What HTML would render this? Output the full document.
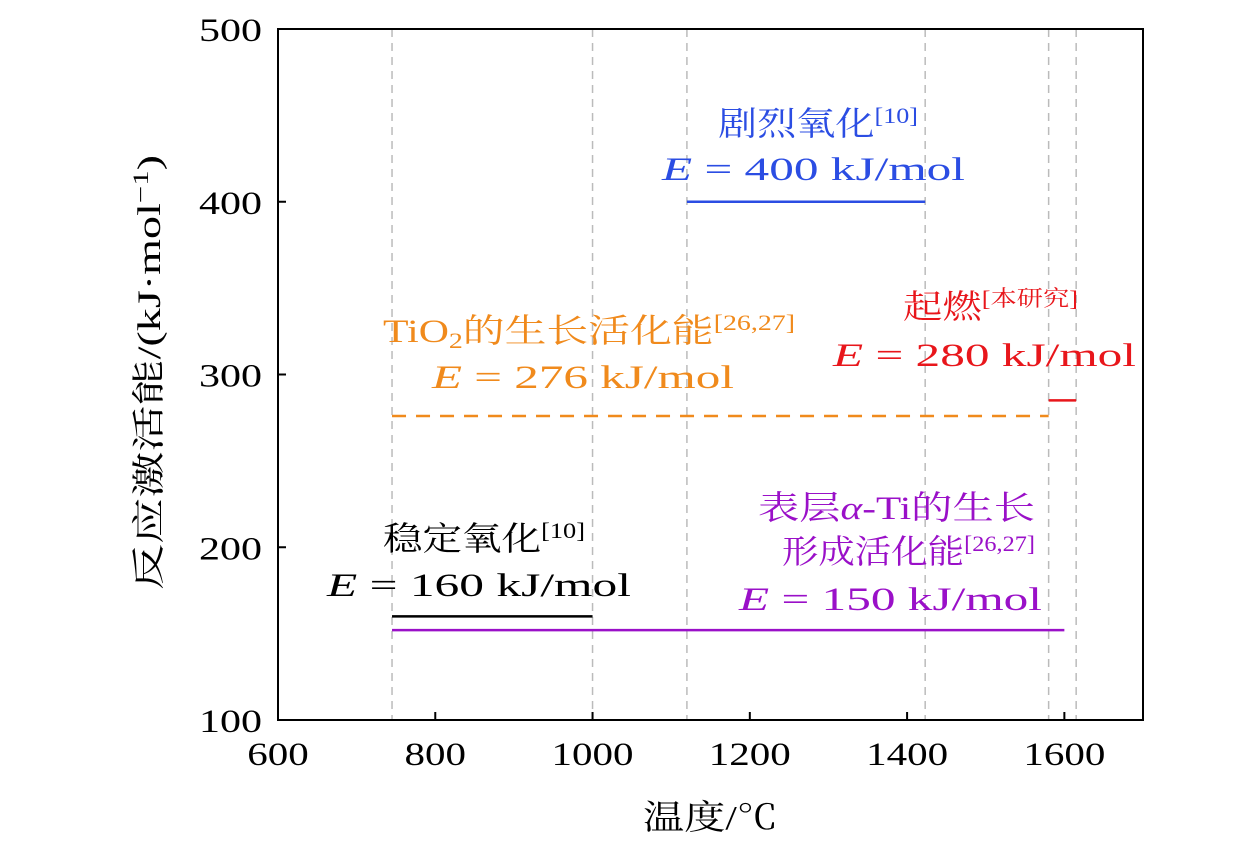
<!DOCTYPE html>
<html><head><meta charset="utf-8">
<style>
body{margin:0;background:#fff;}
svg text{font-family:"Liberation Serif","Noto Serif CJK SC",serif;}
</style></head>
<body>
<svg id="chart" width="1260" height="843" xmlns="http://www.w3.org/2000/svg">
<g id="grid"></g>
<g id="marks"></g>
<rect x="278" y="29" width="865" height="691" fill="none" stroke="#000" stroke-width="2"/>
<g id="ticks"></g>
<text x="643" y="829" font-size="34" textLength="135" lengthAdjust="spacingAndGlyphs">温度/℃</text>
<text transform="translate(160,590) rotate(-90)" font-size="33" textLength="435" lengthAdjust="spacingAndGlyphs">反应激活能/(kJ·mol<tspan dy="-12" font-size="22">−1</tspan><tspan dy="12">)</tspan></text>

<g font-size="33" fill="#2b4de3">
<text x="718" y="135" textLength="200" lengthAdjust="spacingAndGlyphs">剧烈氧化<tspan dy="-12" font-size="22">[10]</tspan></text>
<text x="662" y="180" textLength="303" lengthAdjust="spacingAndGlyphs"><tspan font-style="italic">E</tspan> = 400 kJ/mol</text></g>
<g font-size="33" fill="#f08a1c">
<text x="383" y="342" textLength="412" lengthAdjust="spacingAndGlyphs">TiO<tspan dy="6" font-size="22">2</tspan><tspan dy="-6">的生长活化能</tspan><tspan dy="-12" font-size="22">[26,27]</tspan></text>
<text x="432" y="388" textLength="302" lengthAdjust="spacingAndGlyphs"><tspan font-style="italic">E</tspan> = 276 kJ/mol</text></g>
<g font-size="33" fill="#e8161b">
<text x="903" y="318" textLength="175" lengthAdjust="spacingAndGlyphs">起燃<tspan dy="-12" font-size="22">[本研究]</tspan></text>
<text x="833" y="366" textLength="303" lengthAdjust="spacingAndGlyphs"><tspan font-style="italic">E</tspan> = 280 kJ/mol</text></g>
<g font-size="33" fill="#000">
<text x="383" y="550" textLength="202" lengthAdjust="spacingAndGlyphs">稳定氧化<tspan dy="-12" font-size="22">[10]</tspan></text>
<text x="327" y="596" textLength="304" lengthAdjust="spacingAndGlyphs"><tspan font-style="italic">E</tspan> = 160 kJ/mol</text></g>
<g font-size="33" fill="#9a10c8">
<text x="758" y="519" textLength="277" lengthAdjust="spacingAndGlyphs">表层<tspan font-style="italic">α</tspan>-Ti的生长</text>
<text x="782" y="563" textLength="253" lengthAdjust="spacingAndGlyphs">形成活化能<tspan dy="-12" font-size="22">[26,27]</tspan></text>
<text x="739" y="610" textLength="303" lengthAdjust="spacingAndGlyphs"><tspan font-style="italic">E</tspan> = 150 kJ/mol</text></g>
</svg>
<script>
const xTicks=[600,800,1000,1200,1400,1600];
const yTicks=[100,200,300,400,500];
const vLines=[745,1000,1120,1423,1580,1615];
const segNames=['violent-oxidation','tio2-growth','ignition','stable-oxidation','alpha-ti-growth'];
const segStart=[1120,745,1580,745,745];
const segEnd=[1423,1580,1615,1000,1600];
const segValue=[400,276,285,160,152];
const segColor=['#2b4de3','#f08a1c','#e8161b','#000000','#9a10c8'];
const segDash=['','14,10','','',''];
const X=v=>278+(v-600)*865/1100;
const Y=v=>720-(v-100)*691/400;
const NS='http://www.w3.org/2000/svg';
function mk(tag,attrs,parent){const e=document.createElementNS(NS,tag);for(const k in attrs)e.setAttribute(k,attrs[k]);document.getElementById(parent).appendChild(e);return e;}
vLines.forEach(v=>{const l=mk('line',{x1:X(v),x2:X(v),y1:29,y2:720,stroke:'#bbb','stroke-width':1.5,'stroke-dasharray':'8,6'},'grid');

});
segValue.forEach((v,i)=>{const a={x1:X(segStart[i]),x2:X(segEnd[i]),y1:Y(v),y2:Y(v),stroke:segColor[i],'stroke-width':2.5};if(segDash[i])a['stroke-dasharray']=segDash[i];const l=mk('line',a,'marks');

});
xTicks.forEach(v=>{const l=mk('line',{x1:X(v),x2:X(v),y1:720,y2:712,stroke:'#000','stroke-width':2},'ticks');


const s=String(v);const w=s.length*20.5;
const t=mk('text',{x:X(v)-w/2,y:765,'font-size':33,textLength:w,lengthAdjust:'spacingAndGlyphs'},'ticks');t.textContent=s;

});
yTicks.forEach(v=>{const l=mk('line',{x1:278,x2:286,y1:Y(v),y2:Y(v),stroke:'#000','stroke-width':2},'ticks');


const s=String(v);const w=s.length*21;
const t=mk('text',{x:262-w,y:Y(v)+12,'font-size':33,textLength:w,lengthAdjust:'spacingAndGlyphs'},'ticks');t.textContent=s;

});
</script>
</body></html>
